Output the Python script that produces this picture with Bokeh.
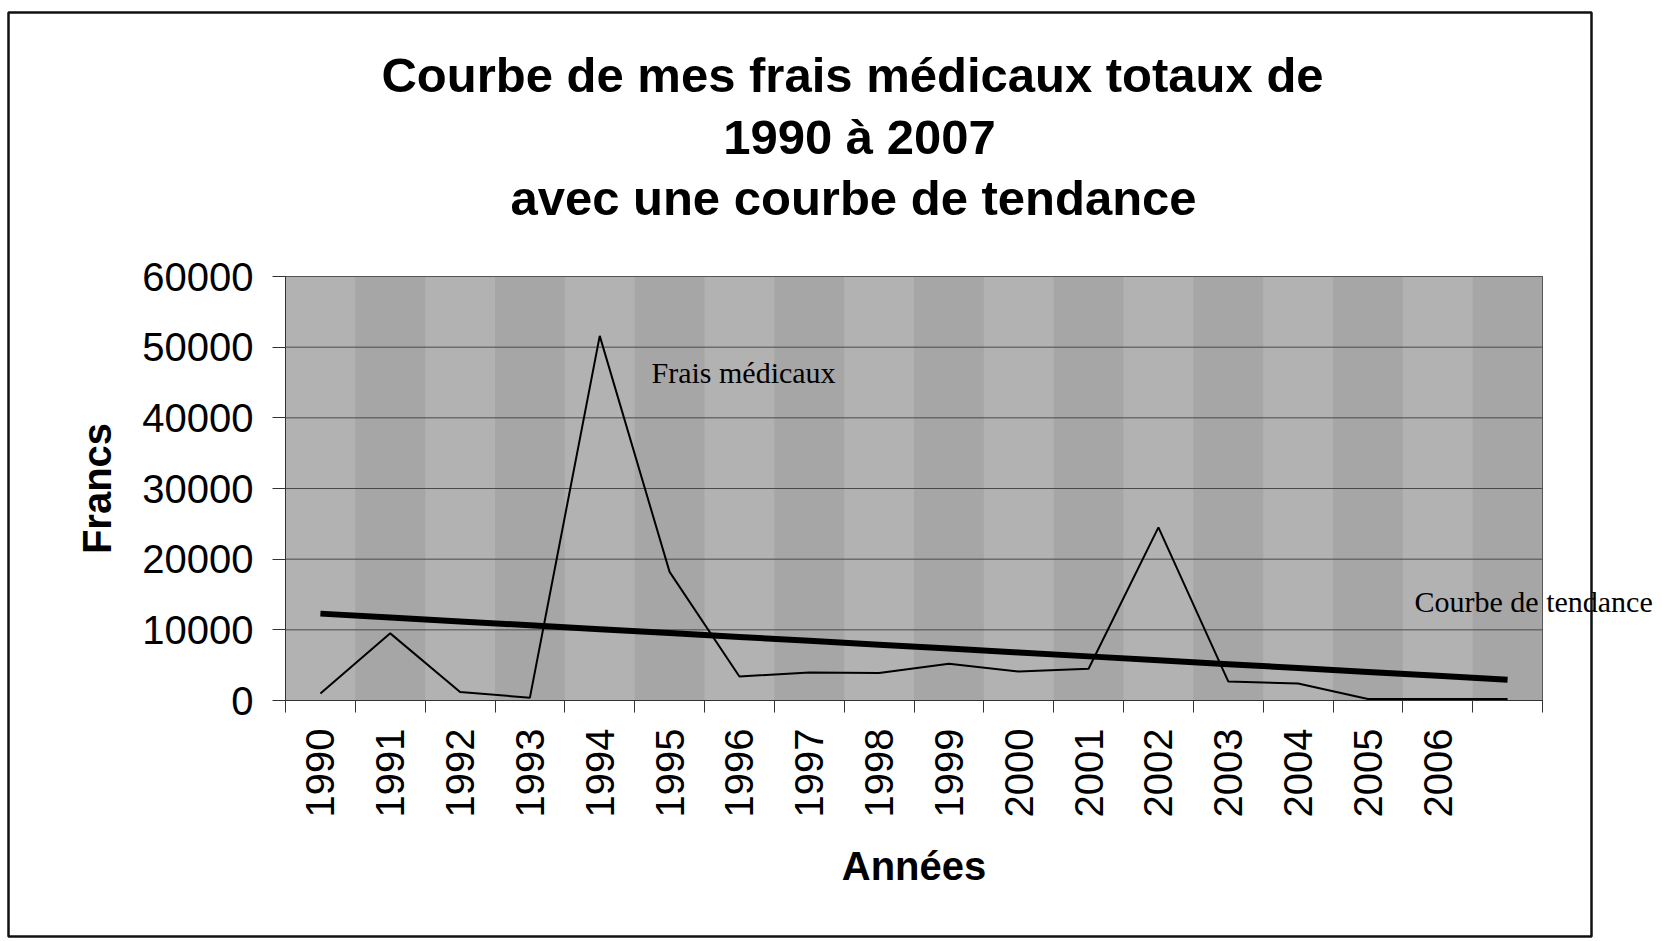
import numpy as np
from bokeh.plotting import figure
from bokeh.models import FixedTicker, Label, BoxAnnotation, LinearAxis, Range1d
from bokeh.embed import file_html
from bokeh.resources import INLINE

# ---- data ----
years = [1990, 1991, 1992, 1993, 1994, 1995, 1996, 1997, 1998,
         1999, 2000, 2001, 2002, 2003, 2004, 2005, 2006, 2007]
frais = [1000, 9500, 1200, 400, 51600, 18200, 3400, 3950, 3900,
         5200, 4100, 4500, 24500, 2700, 2400, 200, 200, 200]
tick_years = [1990, 1991, 1992, 1993, 1994, 1995, 1996, 1997, 1998,
              1999, 2000, 2001, 2002, 2003, 2004, 2005, 2006]
tick_labels = ["1990", "1991", "1992", "1993", "1994", "1995", "1996", "1997",
               "1998", "1999", "2000", "2001", "2002", "2003", "2004", "2005", "2006"]
y_ticks = [0, 10000, 20000, 30000, 40000, 50000, 60000]
title_lines = ["Courbe de mes frais médicaux totaux de", "1990 à 2007",
               "avec une courbe de tendance"]

# linear trend (least squares, as in the spreadsheet)
coef = np.polyfit(years, frais, 1)
trend = list(np.polyval(coef, years))

# ---- layout (pixels) ----
W, H = 1662, 941
PLOT_L, PLOT_R, PLOT_T, PLOT_B = 285, 1542, 276, 700
x0, x1 = years[0] - 0.5, years[-1] + 0.5
y0, y1 = y_ticks[0], y_ticks[-1]
ppx = (PLOT_R - PLOT_L) / (x1 - x0)      # pixels per year
ppy = (PLOT_B - PLOT_T) / (y1 - y0)      # pixels per franc

def px_x(px):
    return x0 + (px - PLOT_L) / ppx

def px_y(py):
    return y0 + (PLOT_B - py) / ppy

SANS = "Liberation Sans"
SERIF = "Liberation Serif"

p = figure(width=W, height=H, min_border=0,
           x_range=Range1d(px_x(0), px_x(W)), y_range=Range1d(px_y(H), px_y(0)),
           x_axis_location=None, y_axis_location=None,
           output_backend="svg", toolbar_location=None)
p.title.visible = False
for g in p.grid:
    g.visible = False
p.background_fill_color = "white"
p.border_fill_color = "white"
p.outline_line_color = None

# plot area
p.quad(left=[x0], right=[x1], bottom=[y0], top=[y1],
       fill_color="#b2b2b2", line_color=None)
p.vbar(x=years[1::2], width=1.0, top=y1, bottom=y0,
       fill_color="#a6a6a6", line_color=None)
p.segment(x0=[x0] * len(y_ticks), y0=y_ticks, x1=[x1] * len(y_ticks), y1=y_ticks,
          line_color="#4a4a4a", line_width=1)
p.quad(left=[x0], right=[x1], bottom=[y0], top=[y1],
       fill_color=None, line_color="#555555", line_width=1)

# data line and trend
p.line(years, frais, line_color="black", line_width=2)
p.line(years, trend, line_color="black", line_width=6)

# x axis
bounds = [y - 0.5 for y in years] + [years[-1] + 0.5]
xa = LinearAxis(fixed_location=y0, bounds=(x0, x1))
xa.ticker = FixedTicker(ticks=tick_years, minor_ticks=bounds)
xa.major_label_overrides = {y: lab for y, lab in zip(tick_years, tick_labels)}
xa.major_label_orientation = np.pi / 2
xa.major_tick_out = 0
xa.major_tick_in = 0
xa.minor_tick_out = 12
xa.minor_tick_in = 0
xa.minor_tick_line_color = "#333333"
xa.axis_line_color = "#333333"
xa.major_label_standoff = 16
xa.major_label_text_font = SANS
xa.major_label_text_font_size = "40px"
xa.major_label_text_color = "black"
xa.axis_label = "Années"
xa.axis_label_text_font = SANS
xa.axis_label_text_font_size = "40px"
xa.axis_label_text_font_style = "bold"
xa.axis_label_text_color = "black"
xa.axis_label_standoff = 24
p.add_layout(xa, "below")

# y axis
ya = LinearAxis(fixed_location=x0, bounds=(y0, y1))
ya.ticker = FixedTicker(ticks=y_ticks)
ya.major_tick_out = 13
ya.major_tick_in = 0
ya.minor_tick_out = 0
ya.minor_tick_in = 0
ya.major_tick_line_color = "#333333"
ya.axis_line_color = "#333333"
ya.major_label_standoff = 19
ya.major_label_text_font = SANS
ya.major_label_text_font_size = "40px"
ya.major_label_text_color = "black"
ya.axis_label = "Francs"
ya.axis_label_text_font = SANS
ya.axis_label_text_font_size = "40px"
ya.axis_label_text_font_style = "bold"
ya.axis_label_text_color = "black"
ya.axis_label_standoff = 20
p.add_layout(ya, "left")

# title (three centred lines)
for line, cx, cy in zip(title_lines, [852, 859, 853], [74, 136, 197]):
    p.add_layout(Label(x=px_x(cx), y=px_y(cy), text=line, text_align="center",
                       text_baseline="middle", text_font=SANS,
                       text_font_size="49px", text_font_style="bold",
                       text_color="black"))

# in-chart annotations
p.add_layout(Label(x=px_x(651), y=px_y(372), text="Frais médicaux", text_align="left",
                   text_baseline="middle", text_font=SERIF,
                   text_font_size="30px", text_color="black"))
p.add_layout(Label(x=px_x(1414), y=px_y(601), text="Courbe de tendance", text_align="left",
                   text_baseline="middle", text_font=SERIF,
                   text_font_size="30px", text_color="black"))

# outer chart border
p.add_layout(BoxAnnotation(left=px_x(8), right=px_x(1591), top=px_y(12), bottom=px_y(936),
                           fill_color=None, fill_alpha=0, line_color="#111111",
                           line_alpha=1.0, line_width=2.5))

open("out.html", "w").write(file_html(p, INLINE))
